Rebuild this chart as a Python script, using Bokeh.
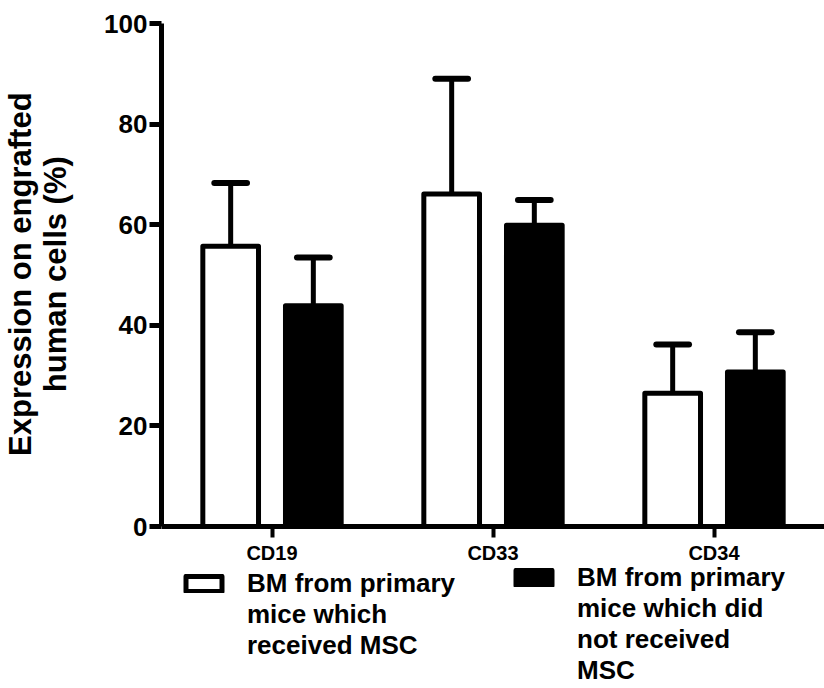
from bokeh.plotting import figure
from bokeh.models import ColumnDataSource, FactorRange, Legend, LegendItem, Range1d, FixedTicker
from bokeh.transform import dodge
from bokeh.embed import file_html
from bokeh.resources import INLINE

markers = ["CD19", "CD33", "CD34"]
with_msc_mean = [55.7, 66.1, 26.5]
with_msc_upper = [68.3, 89.0, 36.2]
without_msc_mean = [43.9, 59.9, 30.7]
without_msc_upper = [53.5, 64.9, 38.6]
series1_lines = ["BM from primary", "mice which", "received MSC"]
series2_lines = ["BM from primary", "mice which did", "not received", "MSC"]
y_ticks = [0, 20, 40, 60, 80, 100]
y_axis_lines = ["Expression on engrafted", "human cells (%)"]

FONT = "Liberation Sans"
OFF = 0.187
BW = 0.252
CAP = 0.074
PAD = "\u00a0" * 19   # lifts the axis title to the middle of the 0-100 axis

src = ColumnDataSource(dict(cat=markers, m1=with_msc_mean, u1=with_msc_upper,
                            m2=without_msc_mean, u2=without_msc_upper))

# the frame extends below zero so the legends under the x axis are not clipped
p = figure(x_range=FactorRange(*markers, range_padding=0), y_range=Range1d(-32.2, 100),
           width=824, height=688, output_backend="svg", toolbar_location=None,
           min_border_left=157, min_border_right=0, min_border_top=23, min_border_bottom=0)
p.outline_line_color = None
p.xgrid.grid_line_color = None
p.ygrid.grid_line_color = None

# error bars (upper only)
for off, m, u in [(-OFF, "m1", "u1"), (OFF, "m2", "u2")]:
    p.segment(x0=dodge("cat", off, range=p.x_range), y0=m,
              x1=dodge("cat", off, range=p.x_range), y1=u,
              line_color="black", line_width=5, source=src)
    p.segment(x0=dodge("cat", off - CAP, range=p.x_range), y0=u,
              x1=dodge("cat", off + CAP, range=p.x_range), y1=u,
              line_color="black", line_width=6, line_cap="round", source=src)

r1 = p.vbar(x=dodge("cat", -OFF, range=p.x_range), top="m1", bottom=0, width=BW,
            fill_color="white", line_color="black", line_width=5, line_join="round", source=src)
r2 = p.vbar(x=dodge("cat", OFF, range=p.x_range), top="m2", bottom=0, width=BW,
            fill_color="black", line_color="black", line_width=5, line_join="round", source=src)
# fully transparent twin of the bars, used only for the text-only legend rows
blank = p.vbar(x=dodge("cat", -OFF, range=p.x_range), top="m1", bottom=0, width=BW,
               fill_alpha=0, line_alpha=0, source=src)

# axes
for ax in (p.xaxis, p.yaxis):
    ax.axis_line_width = 5
    ax.axis_line_color = "black"
    ax.major_tick_line_color = "black"
    ax.major_tick_in = 0
    ax.minor_tick_line_color = None
    ax.major_label_text_font = FONT
    ax.major_label_text_font_style = "bold"
    ax.major_label_text_color = "black"

p.yaxis.ticker = FixedTicker(ticks=y_ticks)
p.yaxis.bounds = (0, 100)
p.yaxis.major_tick_line_width = 5
p.yaxis.major_tick_out = 12
p.yaxis.major_label_text_font_size = "26px"
p.yaxis.major_label_standoff = 2
p.yaxis.axis_label = "\n".join(PAD + t for t in y_axis_lines)
p.yaxis.axis_label_text_font = FONT
p.yaxis.axis_label_text_font_style = "bold"
p.yaxis.axis_label_text_font_size = "31px"
p.yaxis.axis_label_text_line_height = 1.0
p.yaxis.axis_label_text_color = "black"
p.yaxis.axis_label_standoff = 28

p.xaxis.fixed_location = 0
p.xaxis.major_tick_line_width = 4
p.xaxis.major_tick_out = 11
p.xaxis.major_label_text_font_size = "20px"
p.xaxis.major_label_standoff = 4

# legends: single-line rows, the key only on the first row
def make_legend(lines, key, loc):
    items = [LegendItem(label=lines[0], renderers=[key])]
    items += [LegendItem(label=t, renderers=[blank]) for t in lines[1:]]
    return Legend(items=items, location=loc, orientation="vertical",
                  padding=0, margin=0, spacing=0,
                  border_line_alpha=0, background_fill_alpha=0,
                  glyph_width=45, glyph_height=19, label_standoff=21, label_height=28,
                  label_text_font=FONT, label_text_font_style="bold",
                  label_text_font_size="26px", label_text_line_height=1.0,
                  label_text_color="black")

p.add_layout(make_legend(series1_lines, r1, (20, 27)))
p.add_layout(make_legend(series2_lines, r2, (350, 2)))

open("out.html", "w").write(file_html(p, INLINE))
